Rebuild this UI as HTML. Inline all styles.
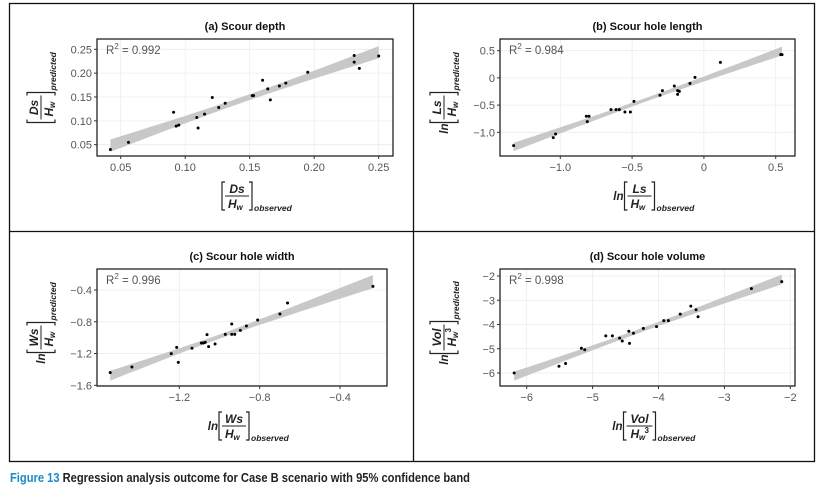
<!DOCTYPE html>
<html><head><meta charset="utf-8">
<style>
html,body{margin:0;padding:0;background:#fff;}
svg{display:block;font-family:"Liberation Sans",sans-serif;}
</style></head>
<body>
<svg id="fig" width="826" height="487" viewBox="0 0 826 487" xmlns="http://www.w3.org/2000/svg">
<rect x="0" y="0" width="826" height="487" fill="#fff"/>
<g stroke="#111" stroke-width="1.3" fill="none">
<rect x="9.5" y="3.5" width="805" height="458"/>
<line x1="413.5" y1="3.5" x2="413.5" y2="461.5"/>
<line x1="9.5" y1="231.5" x2="814.5" y2="231.5"/>
</g>
<text x="10" y="482" font-size="12.5" font-weight="bold" fill="#222" textLength="460" lengthAdjust="spacingAndGlyphs"><tspan fill="#1a8ac2">Figure 13</tspan> Regression analysis outcome for Case B scenario with 95% confidence band</text>
</svg>
<script>
// ---- data ----
const aObs=[0.042,0.056,0.091,0.093,0.095,0.109,0.110,0.115,0.121,0.126,0.131,0.152,0.153,0.160,0.164,0.166,0.173,0.178,0.195,0.231,0.231,0.235,0.250];
const aPred=[0.040,0.055,0.118,0.089,0.091,0.107,0.085,0.114,0.149,0.128,0.137,0.153,0.153,0.185,0.167,0.144,0.173,0.179,0.202,0.237,0.223,0.210,0.236];
const aXTicks=[0.05,0.10,0.15,0.20,0.25];
const aYTicks=[0.05,0.10,0.15,0.20,0.25];
const aXLabels=["0.05","0.10","0.15","0.20","0.25"];
const aYLabels=["0.05","0.10","0.15","0.20","0.25"];

const bObs=[-1.325,-1.049,-1.033,-0.819,-0.800,-0.812,-0.647,-0.612,-0.589,-0.550,-0.512,-0.487,-0.306,-0.289,-0.206,-0.183,-0.183,-0.171,-0.097,-0.062,0.115,0.535,0.544];
const bPred=[-1.245,-1.098,-1.031,-0.706,-0.706,-0.804,-0.584,-0.584,-0.584,-0.627,-0.627,-0.431,-0.320,-0.235,-0.149,-0.235,-0.302,-0.247,-0.100,0.010,0.286,0.427,0.427];
const bXTicks=[-1.0,-0.5,0,0.5];
const bYTicks=[-1.0,-0.5,0,0.5];
const bXLabels=["\u22121.0","\u22120.5","0","0.5"];
const bYLabels=["\u22121.0","\u22120.5","0","0.5"];

const cObs=[-1.544,-1.436,-1.240,-1.213,-1.205,-1.137,-1.090,-1.080,-1.071,-1.062,-1.054,-1.022,-0.971,-0.939,-0.939,-0.924,-0.896,-0.866,-0.810,-0.699,-0.661,-0.236];
const cPred=[-1.441,-1.369,-1.201,-1.122,-1.311,-1.134,-1.067,-1.067,-1.059,-0.962,-1.113,-1.080,-0.958,-0.828,-0.958,-0.958,-0.908,-0.853,-0.778,-0.702,-0.564,-0.354];
const cXTicks=[-1.2,-0.8,-0.4];
const cYTicks=[-1.6,-1.2,-0.8,-0.4];
const cXLabels=["\u22121.2","\u22120.8","\u22120.4"];
const cYLabels=["\u22121.6","\u22121.2","\u22120.8","\u22120.4"];

const dObs=[-6.19,-5.51,-5.41,-5.17,-5.12,-4.80,-4.70,-4.59,-4.55,-4.45,-4.44,-4.38,-4.23,-4.03,-3.92,-3.85,-3.67,-3.51,-3.43,-3.40,-2.59,-2.13];
const dPred=[-6.00,-5.72,-5.61,-4.98,-5.04,-4.47,-4.47,-4.56,-4.68,-4.28,-4.78,-4.36,-4.16,-4.09,-3.84,-3.84,-3.57,-3.24,-3.39,-3.68,-2.52,-2.23];
const dXTicks=[-6,-5,-4,-3,-2];
const dYTicks=[-6,-5,-4,-3,-2];
const dXLabels=["\u22126","\u22125","\u22124","\u22123","\u22122"];
const dYLabels=["\u22126","\u22125","\u22124","\u22123","\u22122"];

const rSquared=["0.992","0.984","0.996","0.998"];
const titles=["(a) Scour depth","(b) Scour hole length","(c) Scour hole width","(d) Scour hole volume"];

const NS="http://www.w3.org/2000/svg";
const svg=document.getElementById('fig');
function mk(tag,attrs,parent){const e=document.createElementNS(NS,tag);for(const k in attrs)e.setAttribute(k,attrs[k]);(parent||svg).appendChild(e);return e;}
function linScale(d0,d1,r0,r1){return v=>r0+(v-d0)/(d1-d0)*(r1-r0);}

function fracLabel(parent,cx,cy,num,denSup,sub,ln){
  const g=mk('g',{},parent);
  const w=denSup?32:30;
  if(ln){const t=mk('text',{x:cx-w/2-1,y:cy+4,'font-size':11.5,'font-style':'italic','font-weight':'bold','fill':'#222','text-anchor':'end'},g);t.textContent='ln';}
  mk('path',{d:`M${cx-w/2+3},${cy-14} h-3 v28 h3 M${cx+w/2-3},${cy-14} h3 v28 h-3`,stroke:'#222','stroke-width':1.2,fill:'none'},g);
  mk('line',{x1:cx-w/2+3,y1:cy,x2:cx+w/2-3,y2:cy,stroke:'#222','stroke-width':1},g);
  const n=mk('text',{x:cx,y:cy-3,'font-size':12,'font-style':'italic','font-weight':'bold','text-anchor':'middle',fill:'#222'},g);n.textContent=num;
  const d=mk('text',{x:cx-9,y:cy+12,'font-size':12,'font-style':'italic','font-weight':'bold',fill:'#222'},g);
  d.textContent='H';
  const ds=mk('text',{x:cx-0.5,y:cy+14,'font-size':8,'font-style':'italic','font-weight':'bold',fill:'#222'},g);ds.textContent='w';
  if(denSup){const sp=mk('text',{x:cx+5,y:cy+7,'font-size':8,'font-weight':'bold',fill:'#222'},g);sp.textContent='3';}
  const s=mk('text',{x:cx+w/2+2,y:cy+15,'font-size':8.5,'font-style':'italic','font-weight':'bold',fill:'#222'},g);s.textContent=sub;
  return g;
}

function panel(idx,box,xd,xpx,yd,ypx,obs,pred,xt,yt,xl,yl,num,denSup,ln){
  const [L,T,R,B]=box;
  const sx=linScale(xd[0],xd[1],xpx[0],xpx[1]), sy=linScale(yd[0],yd[1],ypx[0],ypx[1]);
  const g=mk('g',{});
  
  
  const title=mk('text',{x:(L+R)/2,y:T-9,'font-size':11,'font-weight':'bold','text-anchor':'middle',fill:'#111'},g);
  title.textContent=titles[idx];
  
  
  const grid=mk('g',{stroke:'#ececec','stroke-width':0.8},g);
  
  
  xt.forEach(v=>mk('line',{x1:sx(v),x2:sx(v),y1:T,y2:B},grid));
  yt.forEach(v=>mk('line',{y1:sy(v),y2:sy(v),x1:L,x2:R},grid));
  const n=obs.length;const mx=obs.reduce((a,b)=>a+b,0)/n, my=pred.reduce((a,b)=>a+b,0)/n;
  let sxx=0,sxy=0;obs.forEach((x,i)=>{sxx+=(x-mx)**2;sxy+=(x-mx)*(pred[i]-my);});
  const b=sxy/sxx,a=my-b*mx;let sse=0;obs.forEach((x,i)=>{sse+=(pred[i]-a-b*x)**2;});
  const s=Math.sqrt(sse/(n-2)), t=2.08;
  const x0=Math.min(...obs),x1=Math.max(...obs);const up=[],lo=[];
  for(let k=0;k<=40;k++){const x=x0+(x1-x0)*k/40;const f=a+b*x;const e=t*s*Math.sqrt(1/n+(x-mx)**2/sxx);
    up.push(sx(x).toFixed(1)+','+sy(f+e).toFixed(1));lo.unshift(sx(x).toFixed(1)+','+sy(f-e).toFixed(1));}
  const band=mk('polygon',{points:up.concat(lo).join(' '),fill:'#c8c8c8'},g);
  
  
  const pts=mk('g',{fill:'#000'},g);
  
  
  obs.forEach((x,i)=>{const c=mk('circle',{cx:sx(x),cy:sy(pred[i]),r:1.5},pts);
    
    });
  const fr=mk('rect',{x:L,y:T,width:R-L,height:B-T,fill:'none',stroke:'#111','stroke-width':1.2},g);
  
  
  const r2=mk('text',{x:L+9,y:T+15,'font-size':11.5,fill:'#555'},g);
  
  
  r2.textContent='R';const sp=mk('tspan',{'font-size':8,dy:-5},r2);sp.textContent='2';
  const rest=mk('tspan',{dy:5},r2);rest.textContent=' = '+rSquared[idx];
  const xa=mk('g',{'font-size':11,fill:'#555','text-anchor':'middle'},g);
  
  
  xt.forEach((v,i)=>{mk('line',{x1:sx(v),x2:sx(v),y1:B,y2:B+3,stroke:'#333'},xa);const tx=mk('text',{x:sx(v),y:B+15},xa);tx.textContent=xl[i];});
  const ya=mk('g',{'font-size':11,fill:'#555','text-anchor':'end'},g);
  
  
  yt.forEach((v,i)=>{mk('line',{x1:L-3,x2:L,y1:sy(v),y2:sy(v),stroke:'#333'},ya);const tx=mk('text',{x:L-5,y:sy(v)+4},ya);tx.textContent=yl[i];});
  const xt2=fracLabel(g,(L+R)/2-8,B+40,num,denSup,'observed',ln);
  
  
  const yc=(T+B)/2, yx=L-56;
  const yg=mk('g',{transform:`rotate(-90 ${yx} ${yc})`},g);
  
  
  fracLabel(yg,yx-10,yc,num,denSup,'predicted',ln);
}

panel(0,[97,39,393,156],[0.05,0.25],[120.7,378.7],[0.05,0.25],[144.7,49.3],aObs,aPred,aXTicks,aYTicks,aXLabels,aYLabels,'Ds',false,false);
panel(1,[500,39,795,156],[-1,0.5],[560.3,775.7],[-1,0.5],[132.3,50.7],bObs,bPred,bXTicks,bYTicks,bXLabels,bYLabels,'Ls',false,true);
panel(2,[97,269,387,386],[-1.2,-0.4],[179.3,340],[-1.6,-0.4],[385.3,290],cObs,cPred,cXTicks,cYTicks,cXLabels,cYLabels,'Ws',false,true);
panel(3,[500,269,795,386],[-6,-2],[526.7,790.3],[-6,-2],[373,276],dObs,dPred,dXTicks,dYTicks,dXLabels,dYLabels,'Vol',true,true);
</script>
</body></html>
